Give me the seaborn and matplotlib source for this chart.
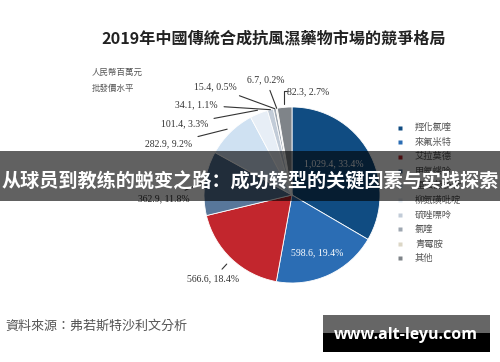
import numpy as np
import matplotlib
matplotlib.use("Agg")
import matplotlib.pyplot as plt
import seaborn as sns
from matplotlib.patches import Rectangle

# ---- data ----
categories = ["羥化氯喹", "來氟米特", "艾拉莫德", "甲氨蝶呤", "雷公藤多苷",
              "柳氮磺吡啶", "硫唑嘌呤", "氯喹", "青霉胺", "其他"]
values = [1029.4, 598.6, 566.6, 362.9, 282.9, 101.4, 34.1, 15.4, 6.7, 82.3]
colors = ["#104c82", "#2b6db4", "#c2262d", "#58779a", "#cfe1f2",
          "#e7eef6", "#c2ccd8", "#9ea7b1", "#dcd7c6", "#7f8489"]
title = "2019年中國傳統合成抗風濕藥物市場的競爭格局"
unit_lines = ["人民幣百萬元", "批發價水平"]
source = "資料來源：弗若斯特沙利文分析"
banner = "从球员到教练的蜕变之路：成功转型的关键因素与实践探索"
watermark = "www.alt-leyu.com"

sns.set_theme(style="white")
plt.rcParams["font.family"] = ["Noto Sans CJK TC", "DejaVu Sans"]

W, H = 500, 362
fig = plt.figure(figsize=(W / 100, H / 100), dpi=100)
fig.patch.set_facecolor("white")

# pie geometry (pixels)
cx, cy, R = 292, 195, 88
ax = fig.add_axes([(cx - R) / W, (H - cy - R) / H, 2 * R / W, 2 * R / H])
ax.pie(values, colors=colors, startangle=90, counterclock=False, radius=1,
       wedgeprops=dict(edgecolor="white", linewidth=0.6))
ax.set_xlim(-1, 1)
ax.set_ylim(-1, 1)
ax.axis("off")

# overlay axes in pixel coordinates
ov = fig.add_axes([0, 0, 1, 1])
ov.set_xlim(0, W)
ov.set_ylim(H, 0)
ov.axis("off")
ov.patch.set_alpha(0)

total = sum(values)
pcts = [v / total * 100 for v in values]
cum = np.cumsum(values)
mids = (cum - np.array(values) / 2) / total


def edge_pt(i, k):
    th = 2 * np.pi * mids[i]
    return cx + R * k * np.sin(th), cy - R * k * np.cos(th)


def lab(i):
    return f"{values[i]:,.1f}, {pcts[i]:.1f}%"


serif = ["Liberation Serif", "DejaVu Serif"]
lc = "#333333"
# inside labels
ov.text(334, 164, lab(0), color="white", fontsize=7, family=serif, ha="center", va="center")
ov.text(317, 253, lab(1), color="white", fontsize=7, family=serif, ha="center", va="center")

# outside labels: (index, text x, text y, ha, radius factor)
outside = [(2, 213, 279, "center", 1.08),
           (3, 190, 199, "right", 1.03),
           (4, 192, 144, "right", 1.05),
           (5, 208, 124, "right", 1.04),
           (6, 218, 105, "right", 1.0),
           (7, 237, 87, "right", 1.0),
           (8, 266, 80, "center", 1.0)]
for i, tx, ty, ha, k in outside:
    px, py = edge_pt(i, k)
    ov.annotate(lab(i), xy=(px, py), xytext=(tx, ty), fontsize=7, family=serif,
                color=lc, ha=ha, va="center",
                arrowprops=dict(arrowstyle="-", color="#333333", lw=0.8,
                                shrinkA=2, shrinkB=0))
# 其他 label with bracket leader
px, py = edge_pt(9, 1.04)
ov.text(287, 92, lab(9), fontsize=7, family=serif, color=lc, ha="left", va="center")
ov.plot([px, px, px + 3], [py, 91, 91], color="#333333", lw=0.8)

# title & unit text
ov.text(274, 38, title, fontsize=11.6, fontweight="bold", color="#222222",
        ha="center", va="center")
ov.text(92, 72, unit_lines[0], fontsize=6.1, color="#555555", va="center")
ov.text(92, 88, unit_lines[1], fontsize=6.1, color="#555555", va="center")

# legend
y0, dy = 127.5, 14.55
for j, (name, col) in enumerate(zip(categories, colors)):
    y = y0 + j * dy
    ov.plot([400], [y], marker="s", ms=2.8, color=col, mec="none")
    ov.text(415, y, name, fontsize=6.7, color="#555555", va="center")

# source
ov.text(5, 326, source, fontsize=9.4, color="#555555", va="center", style="italic")

# banner overlay
ov.add_patch(Rectangle((0, 151), W, 50, facecolor="black", alpha=0.62,
                       edgecolor="none", zorder=5))
ov.text(250, 182, banner, fontsize=13.8, fontweight="bold", color="white",
        ha="center", va="center", zorder=6,
        family=["Noto Sans CJK SC", "DejaVu Sans"])

# watermark box
ov.add_patch(Rectangle((323, 315), 167, 18, facecolor="#666666", edgecolor="none", zorder=5))
ov.add_patch(Rectangle((323, 333), 167, 19, facecolor="black", edgecolor="none", zorder=5))
ov.text(406, 335, watermark, fontsize=11.5, fontweight="bold", color="white",
        ha="center", va="center", zorder=6, family=["Open Sans", "DejaVu Sans"])

fig.savefig("out.png", dpi=100)
